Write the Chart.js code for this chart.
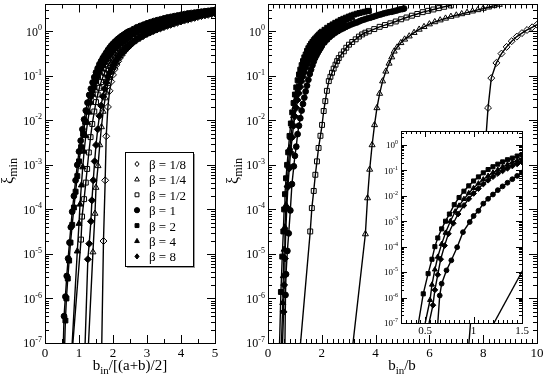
<!DOCTYPE html>
<html>
<head>
<meta charset="utf-8">
<script src="https://cdn.jsdelivr.net/npm/chart.js@4/dist/chart.umd.min.js"></script>
<style>
  body { margin: 0; background: #fff; }
  canvas { position: absolute; left: 0; top: 0; }
</style>
</head>
<body>
<canvas id="leftChart" width="543" height="377"></canvas>
<canvas id="rightChart" width="543" height="377"></canvas>
<canvas id="insetChart" width="543" height="377"></canvas>
<script>
// legend labels, one per beta, in the order used by every series list below
var betaLabels = ["β = 1/8", "β = 1/4", "β = 1/2", "β = 1", "β = 2", "β = 4", "β = 8"];

// tick labels
var yTickExps = [0, -1, -2, -3, -4, -5, -6, -7];
var leftXTicks = [0, 1, 2, 3, 4, 5];
var rightXTicks = [0, 2, 4, 6, 8, 10];
var insetXTicks = [0.5, 1, 1.5];

// ---- left panel: xi_min vs b_in/[(a+b)/2], points [x, y] ----
var leftB8th = [[1.72,1.95e-5],[1.77,4.5e-4],[1.8,4.4e-3],[1.85,0.02],[1.9,0.046],[1.95,0.074],[2.0,0.105],[2.05,0.141],[2.1,0.176],[2.15,0.211],[2.2,0.251],[2.25,0.288],[2.3,0.331],[2.35,0.367],[2.4,0.407],[2.45,0.442],[2.5,0.479],[2.6,0.562],[2.7,0.638],[2.8,0.716],[2.9,0.794],[3.0,0.871],[3.1,0.944],[3.2,1.02],[3.3,1.1],[3.4,1.17],[3.5,1.24],[3.6,1.32],[3.7,1.4],[3.8,1.48],[3.9,1.57],[4.0,1.66],[4.1,1.74],[4.2,1.82],[4.3,1.91],[4.4,2.0],[4.5,2.09],[4.6,2.19],[4.7,2.26],[4.8,2.34],[4.9,2.43],[5.0,2.51]];
var leftB4th = [[1.41,1.1e-5],[1.47,8.1e-5],[1.5,3.1e-4],[1.56,9.5e-4],[1.61,2.8e-3],[1.66,7.1e-3],[1.71,0.0158],[1.77,0.0316],[1.8,0.0427],[1.85,0.0661],[1.9,0.0912],[1.95,0.12],[2.0,0.151],[2.05,0.182],[2.1,0.214],[2.15,0.251],[2.2,0.282],[2.25,0.316],[2.3,0.351],[2.35,0.389],[2.4,0.427],[2.45,0.462],[2.5,0.501],[2.6,0.575],[2.7,0.653],[2.8,0.724],[2.9,0.804],[3.0,0.871],[3.1,0.944],[3.2,1.02],[3.3,1.1],[3.4,1.17],[3.5,1.26],[3.6,1.35],[3.7,1.43],[3.8,1.51],[3.9,1.6],[4.0,1.7],[4.1,1.78],[4.2,1.86],[4.3,1.95],[4.4,2.04],[4.5,2.14],[4.6,2.24],[4.7,2.32],[4.8,2.4],[4.9,2.48],[5.0,2.57]];
var leftB2nd = [[1.06,2.1e-5],[1.09,6.9e-5],[1.15,1.7e-4],[1.2,4e-4],[1.24,8.1e-4],[1.29,1.9e-3],[1.34,4.2e-3],[1.39,8.3e-3],[1.45,0.0158],[1.5,0.0257],[1.55,0.038],[1.6,0.0537],[1.65,0.0724],[1.7,0.0933],[1.75,0.116],[1.8,0.141],[1.85,0.168],[1.9,0.195],[1.95,0.224],[2.0,0.257],[2.05,0.288],[2.1,0.324],[2.15,0.355],[2.2,0.389],[2.25,0.422],[2.3,0.457],[2.35,0.49],[2.4,0.525],[2.45,0.562],[2.5,0.596],[2.6,0.676],[2.7,0.759],[2.8,0.832],[2.9,0.912],[3.0,0.989],[3.1,1.07],[3.2,1.15],[3.3,1.23],[3.4,1.3],[3.5,1.38],[3.6,1.46],[3.7,1.55],[3.8,1.62],[3.9,1.7],[4.0,1.78],[4.1,1.86],[4.2,1.95],[4.3,2.04],[4.4,2.14],[4.5,2.24],[4.6,2.32],[4.7,2.4],[4.8,2.51],[4.9,2.6],[5.0,2.69]];
var leftB1 = [[0.56,4e-7],[0.6,1.1e-6],[0.64,3.2e-6],[0.68,7.9e-6],[0.72,1.8e-5],[0.76,4e-5],[0.8,8.9e-5],[0.85,2e-4],[0.9,4.5e-4],[0.95,1e-3],[1.0,2e-3],[1.05,3.5e-3],[1.1,6.3e-3],[1.15,0.0105],[1.2,0.0166],[1.25,0.025],[1.3,0.0372],[1.35,0.0513],[1.4,0.0708],[1.45,0.0933],[1.5,0.12],[1.55,0.148],[1.6,0.182],[1.65,0.214],[1.7,0.251],[1.75,0.288],[1.8,0.331],[1.85,0.38],[1.9,0.427],[1.95,0.479],[2.0,0.525],[2.05,0.575],[2.1,0.624],[2.15,0.676],[2.2,0.724],[2.25,0.776],[2.3,0.822],[2.35,0.871],[2.4,0.933],[2.45,0.977],[2.5,1.02],[2.6,1.12],[2.7,1.23],[2.8,1.32],[2.9,1.41],[3.0,1.51],[3.1,1.6],[3.2,1.7],[3.3,1.78],[3.4,1.86],[3.5,1.95],[3.6,2.04],[3.7,2.11],[3.8,2.19],[3.9,2.26],[4.0,2.34],[4.1,2.43],[4.2,2.51],[4.3,2.57],[4.4,2.63],[4.5,2.69],[4.6,2.75],[4.7,2.82],[4.8,2.88],[4.9,2.95],[5.0,3.02]];
var leftB2 = [[0.6,3.2e-7],[0.63,1e-6],[0.67,2.8e-6],[0.71,7.1e-6],[0.75,1.8e-5],[0.8,4.5e-5],[0.85,1.1e-4],[0.9,2.5e-4],[0.95,5.6e-4],[1.0,1.2e-3],[1.06,2.5e-3],[1.12,5e-3],[1.18,9.3e-3],[1.24,0.0158],[1.3,0.0251],[1.35,0.0347],[1.4,0.0479],[1.45,0.0631],[1.5,0.0813],[1.55,0.1],[1.6,0.126],[1.65,0.148],[1.7,0.174],[1.75,0.204],[1.8,0.234],[1.85,0.269],[1.9,0.302],[1.95,0.339],[2.0,0.38],[2.05,0.417],[2.1,0.457],[2.15,0.501],[2.2,0.543],[2.25,0.589],[2.3,0.631],[2.35,0.676],[2.4,0.716],[2.45,0.767],[2.5,0.813],[2.6,0.902],[2.7,1.0],[2.8,1.1],[2.9,1.19],[3.0,1.27],[3.1,1.35],[3.2,1.43],[3.3,1.51],[3.4,1.6],[3.5,1.7],[3.6,1.78],[3.7,1.86],[3.8,1.95],[3.9,2.04],[4.0,2.11],[4.1,2.19],[4.2,2.26],[4.3,2.34],[4.4,2.43],[4.5,2.51],[4.6,2.6],[4.7,2.69],[4.8,2.75],[4.9,2.85],[5.0,2.95]];
var leftB4 = [[0.95,1.15e-5],[1.0,4.8e-5],[1.03,1.3e-4],[1.07,3.5e-4],[1.11,8.9e-4],[1.15,2e-3],[1.2,4.5e-3],[1.25,8.9e-3],[1.3,0.0151],[1.35,0.0251],[1.4,0.038],[1.45,0.0537],[1.5,0.0741],[1.55,0.0977],[1.6,0.123],[1.65,0.148],[1.7,0.176],[1.75,0.204],[1.8,0.234],[1.85,0.269],[1.9,0.302],[1.95,0.335],[2.0,0.372],[2.05,0.407],[2.1,0.442],[2.15,0.479],[2.2,0.513],[2.25,0.55],[2.3,0.582],[2.35,0.617],[2.4,0.661],[2.45,0.7],[2.5,0.733],[2.6,0.813],[2.7,0.891],[2.8,0.966],[2.9,1.04],[3.0,1.12],[3.1,1.19],[3.2,1.26],[3.3,1.33],[3.4,1.41],[3.5,1.5],[3.6,1.58],[3.7,1.66],[3.8,1.74],[3.9,1.82],[4.0,1.91],[4.1,2.0],[4.2,2.09],[4.3,2.16],[4.4,2.24],[4.5,2.34],[4.6,2.45],[4.7,2.54],[4.8,2.63],[4.9,2.72],[5.0,2.82]];
var leftB8 = [[1.26,7.6e-6],[1.3,1.7e-5],[1.35,5.4e-5],[1.38,1.6e-4],[1.42,4.5e-4],[1.46,1.2e-3],[1.5,2.8e-3],[1.55,6.3e-3],[1.6,0.0126],[1.65,0.0214],[1.7,0.0347],[1.75,0.0513],[1.8,0.0708],[1.85,0.0955],[1.9,0.117],[1.95,0.145],[2.0,0.174],[2.05,0.204],[2.1,0.229],[2.15,0.263],[2.2,0.295],[2.25,0.327],[2.3,0.359],[2.35,0.398],[2.4,0.432],[2.45,0.468],[2.5,0.501],[2.6,0.575],[2.7,0.661],[2.8,0.733],[2.9,0.813],[3.0,0.891],[3.1,0.966],[3.2,1.05],[3.3,1.12],[3.4,1.2],[3.5,1.29],[3.6,1.38],[3.7,1.46],[3.8,1.55],[3.9,1.64],[4.0,1.74],[4.1,1.82],[4.2,1.91],[4.3,2.0],[4.4,2.09],[4.5,2.19],[4.6,2.29],[4.7,2.37],[4.8,2.45],[4.9,2.54],[5.0,2.63]];
// where each fitted line leaves the bottom of the left panel (y = 1e-7)
var leftLineStart = [1.67, 1.28, 0.82, 0.54, 0.58, 0.8, 1.18];

// ---- right panel (and inset): xi_min vs b_in/b ----
var rightB8th = [[7.6,1e-6],[7.75,1e-5],[7.88,1e-4],[8.0,7.9e-4],[8.1,4e-3],[8.18,0.019],[8.3,0.089],[8.49,0.195],[8.68,0.316],[8.87,0.447],[9.06,0.6],[9.25,0.76],[9.44,0.91],[9.63,1.07],[9.82,1.23],[10.0,1.41]];
var rightB4th = [[3.62,2.8e-5],[3.7,1.8e-4],[3.78,7.9e-4],[3.87,2.8e-3],[3.96,7.9e-3],[4.05,0.019],[4.15,0.04],[4.26,0.076],[4.38,0.126],[4.5,0.19],[4.6,0.263],[4.69,0.355],[4.8,0.437],[4.94,0.55],[5.08,0.66],[5.25,0.776],[5.43,0.93],[5.62,1.1],[5.8,1.26],[6.0,1.45],[6.2,1.62],[6.4,1.78],[6.6,1.95],[6.8,2.14],[7.0,2.29],[7.2,2.45],[7.4,2.63],[7.6,2.82],[7.8,3.02],[8.0,3.24],[8.2,3.47],[8.4,3.72],[8.6,3.98]];
var rightB2nd = [[1.57,3.2e-5],[1.63,1.07e-4],[1.7,2.6e-4],[1.76,6e-4],[1.82,1.2e-3],[1.88,2.4e-3],[1.95,4.5e-3],[2.01,7.9e-3],[2.07,0.0162],[2.13,0.027],[2.19,0.046],[2.26,0.076],[2.32,0.095],[2.38,0.117],[2.44,0.145],[2.51,0.178],[2.57,0.214],[2.63,0.25],[2.72,0.3],[2.82,0.355],[2.91,0.427],[3.01,0.5],[3.13,0.575],[3.26,0.66],[3.38,0.76],[3.5,0.85],[3.62,0.93],[3.75,1.0],[3.95,1.12],[4.15,1.26],[4.35,1.38],[4.55,1.51],[4.75,1.66],[4.95,1.86],[5.15,2.04],[5.35,2.24],[5.55,2.45],[5.75,2.69],[5.95,2.88],[6.15,3.09],[6.35,3.31],[6.55,3.55],[6.8,3.8]];
var rightB1 = [[0.65,1.2e-6],[0.67,3.5e-6],[0.72,1.17e-5],[0.77,2.9e-5],[0.83,9.5e-5],[0.89,3.7e-4],[0.96,9.3e-4],[1.0,1.6e-3],[1.05,2.57e-3],[1.1,4.9e-3],[1.15,7.59e-3],[1.2,0.0112],[1.25,0.0166],[1.3,0.0234],[1.35,0.0324],[1.4,0.0447],[1.45,0.0603],[1.5,0.0813],[1.55,0.11],[1.6,0.138],[1.65,0.172],[1.7,0.209],[1.75,0.251],[1.8,0.288],[1.85,0.331],[1.9,0.372],[1.95,0.417],[2.0,0.468],[2.1,0.562],[2.2,0.653],[2.3,0.75],[2.4,0.841],[2.5,0.933],[2.6,1.01],[2.7,1.1],[2.8,1.17],[2.9,1.26],[3.0,1.35],[3.1,1.43],[3.2,1.51],[3.3,1.58],[3.4,1.68],[3.5,1.78],[3.6,1.86],[3.7,1.95],[3.8,2.02],[3.9,2.11],[4.0,2.21],[4.1,2.32],[4.2,2.4],[4.3,2.51],[4.4,2.6],[4.5,2.69],[4.6,2.75],[4.7,2.85],[4.8,2.95],[4.9,3.09],[5.0,3.16],[5.06,3.24]];
var rightB2 = [[0.48,1.4e-6],[0.53,8.7e-6],[0.57,3.2e-5],[0.6,1e-4],[0.63,2.2e-4],[0.67,5e-4],[0.71,1e-3],[0.75,1.91e-3],[0.8,4.47e-3],[0.85,8.51e-3],[0.9,0.0151],[0.95,0.0245],[1.0,0.038],[1.05,0.055],[1.1,0.0794],[1.15,0.107],[1.2,0.138],[1.25,0.174],[1.3,0.214],[1.35,0.26],[1.4,0.302],[1.45,0.363],[1.5,0.417],[1.55,0.468],[1.6,0.525],[1.65,0.575],[1.7,0.631],[1.75,0.684],[1.8,0.733],[1.85,0.794],[1.9,0.851],[1.95,0.912],[2.0,0.977],[2.1,1.08],[2.2,1.2],[2.3,1.32],[2.4,1.43],[2.5,1.55],[2.6,1.66],[2.7,1.8],[2.8,1.91],[2.9,2.02],[3.0,2.14],[3.1,2.26],[3.2,2.37],[3.3,2.48],[3.4,2.57],[3.5,2.66],[3.6,2.75],[3.7,2.85],[3.75,2.88]];
var rightB4 = [[0.55,8e-7],[0.57,3.2e-6],[0.6,1.26e-5],[0.63,4e-5],[0.67,1.26e-4],[0.71,3.5e-4],[0.76,1e-3],[0.81,2.4e-3],[0.85,4.07e-3],[0.9,7.41e-3],[0.95,0.0126],[1.0,0.02],[1.05,0.0302],[1.1,0.0437],[1.15,0.0603],[1.2,0.0813],[1.25,0.105],[1.3,0.135],[1.35,0.166],[1.4,0.204],[1.45,0.24],[1.5,0.282],[1.55,0.324],[1.6,0.372],[1.65,0.417],[1.7,0.457],[1.75,0.507],[1.8,0.562],[1.85,0.61],[1.9,0.661],[1.95,0.708],[2.0,0.767],[2.1,0.881],[2.2,0.977],[2.3,1.08],[2.4,1.19],[2.5,1.3],[2.6,1.41],[2.7,1.55],[2.8,1.66],[2.9,1.76],[3.0,1.86],[3.125,2.0]];
var rightB8 = [[0.58,5e-7],[0.6,2e-6],[0.63,7.9e-6],[0.66,3.2e-5],[0.7,1.1e-4],[0.74,3.2e-4],[0.79,8.3e-4],[0.84,1.91e-3],[0.9,4.17e-3],[0.95,7.59e-3],[1.0,0.0123],[1.05,0.0191],[1.1,0.0288],[1.15,0.0407],[1.2,0.0562],[1.25,0.075],[1.3,0.0955],[1.35,0.12],[1.4,0.148],[1.45,0.178],[1.5,0.211],[1.55,0.245],[1.6,0.282],[1.65,0.32],[1.7,0.363],[1.75,0.407],[1.8,0.447],[1.85,0.495],[1.9,0.543],[1.95,0.589],[2.0,0.646],[2.1,0.741],[2.2,0.851],[2.3,0.955],[2.4,1.05],[2.5,1.15],[2.6,1.26],[2.7,1.38],[2.81,1.51]];
var rightLineStart = [7.47, 3.16, 1.21, 0.63, 0.43, 0.5, 0.54];

var FONT = '"Liberation Serif", "Times New Roman", serif';

// marker look for each beta
var markerStyles = [
  { shape: 'rectRot', filled: false },
  { shape: 'triangle', filled: false },
  { shape: 'rect', filled: false },
  { shape: 'circle', filled: true },
  { shape: 'rect', filled: true },
  { shape: 'triangle', filled: true },
  { shape: 'rectRot', filled: true }
];

function buildSets(series, starts, size) {
  var sets = [];
  series.forEach(function (pts, i) {
    var st = markerStyles[i];
    var xy = pts.map(function (p) { return { x: p[0], y: p[1] }; });
    sets.push({
      data: [{ x: starts[i], y: 1e-7 }].concat(xy),
      showLine: true, borderColor: '#000', borderWidth: 1.4, tension: 0,
      pointRadius: 0, order: 2
    });
    var r = st.shape === 'circle' ? size : size * 1.2;
    sets.push({
      data: xy, showLine: false, order: 1,
      pointStyle: st.shape, pointRadius: r, pointHoverRadius: r,
      pointBackgroundColor: st.filled ? '#000' : 'rgba(0,0,0,0)',
      pointBorderColor: '#000', pointBorderWidth: 1
    });
  });
  return sets;
}

function drawMarker(c, shape, filled, x, y, r) {
  c.beginPath();
  if (shape === 'circle') c.arc(x, y, r, 0, 2 * Math.PI);
  else if (shape === 'rect') c.rect(x - r * 0.75, y - r * 0.75, r * 1.5, r * 1.5);
  else if (shape === 'triangle') { c.moveTo(x, y - r); c.lineTo(x + r * 0.9, y + r * 0.6); c.lineTo(x - r * 0.9, y + r * 0.6); c.closePath(); }
  else { c.moveTo(x, y - r); c.lineTo(x + r * 0.8, y); c.lineTo(x, y + r); c.lineTo(x - r * 0.8, y); c.closePath(); }
  if (filled) c.fill();
  c.stroke();
}

// text made of [string, isSubscript] pieces
function pieceWidth(c, parts, size) {
  var w = 0;
  parts.forEach(function (p) {
    c.font = (p[1] ? Math.round(size * 0.72) : size) + 'px ' + FONT;
    w += c.measureText(p[0]).width;
  });
  return w;
}
function drawPieces(c, parts, size, x, y) {
  parts.forEach(function (p) {
    c.font = (p[1] ? Math.round(size * 0.72) : size) + 'px ' + FONT;
    c.fillText(p[0], x, p[1] ? y + size * 0.28 : y);
    x += c.measureText(p[0]).width;
  });
}

function axisFrame(o) {
  return {
    id: 'axisFrame',
    beforeDatasetsDraw: function (chart) {
      if (!o.white) return;
      var a = chart.chartArea, c = chart.ctx;
      c.save();
      c.fillStyle = '#fff';
      c.fillRect(a.left, a.top, a.right - a.left, a.bottom - a.top);
      c.restore();
    },
    afterDraw: function (chart) {
      var c = chart.ctx, a = chart.chartArea, xs = chart.scales.x, ys = chart.scales.y;
      c.save();
      c.strokeStyle = '#000';
      c.fillStyle = '#000';
      c.lineWidth = 1;
      c.beginPath();
      var n = Math.round((xs.max - xs.min) / o.xMinor);
      for (var i = 0; i <= n; i++) {
        var v = xs.min + i * o.xMinor;
        var q = v / o.xMajor;
        var len = Math.abs(q - Math.round(q)) < 1e-6 ? o.majorLen : o.minorLen;
        var px = Math.round(xs.getPixelForValue(v)) + 0.5;
        c.moveTo(px, a.bottom); c.lineTo(px, a.bottom - len);
        c.moveTo(px, a.top); c.lineTo(px, a.top + len);
      }
      for (var k = -7; k <= 0; k++) {
        for (var m = 1; m <= 9; m++) {
          var val = m * Math.pow(10, k);
          if (val > ys.max) break;
          var py = Math.round(ys.getPixelForValue(val)) + 0.5;
          var l2 = m === 1 ? o.majorLen : o.minorLen;
          c.moveTo(a.left, py); c.lineTo(a.left + l2, py);
          c.moveTo(a.right, py); c.lineTo(a.right - l2, py);
        }
      }
      c.stroke();
      c.strokeRect(Math.round(a.left) + 0.5, Math.round(a.top) + 0.5, Math.round(a.right - a.left), Math.round(a.bottom - a.top));

      // x tick labels
      c.textAlign = 'left';
      c.textBaseline = 'alphabetic';
      c.font = o.xFont + 'px ' + FONT;
      o.xTicks.forEach(function (t) {
        var s = String(t);
        var w = c.measureText(s).width;
        c.fillText(s, xs.getPixelForValue(t) - w / 2, a.bottom + o.xLabelDy);
      });
      // y tick labels 10^k
      yTickExps.forEach(function (e) {
        var py = ys.getPixelForValue(Math.pow(10, e));
        c.font = Math.round(o.yFont * 0.7) + 'px ' + FONT;
        var es = e < 0 ? '-' + (-e) : String(e);
        var ew = c.measureText(es).width;
        var xr = a.left - 3;
        c.fillText(es, xr - ew, py - o.yFont * 0.08);
        c.font = o.yFont + 'px ' + FONT;
        var bw = c.measureText('10').width;
        c.fillText('10', xr - ew - bw, py + o.yFont * 0.37);
      });
      // axis titles
      if (o.xTitle) {
        var tw = pieceWidth(c, o.xTitle, 15);
        drawPieces(c, o.xTitle, 15, o.xTitleX - tw / 2, 370);
      }
      if (o.yTitle) {
        c.save();
        c.translate(o.yTitleX, 171);
        c.rotate(-Math.PI / 2);
        var yw = pieceWidth(c, o.yTitle, 16);
        drawPieces(c, o.yTitle, 16, -yw / 2, 4);
        c.restore();
      }
      // legend box
      if (o.legend) {
        var L = o.legend;
        c.fillStyle = '#9a9a9a';
        c.fillRect(L.x + 2, L.y + 2, L.w, L.h);
        c.fillStyle = '#fff';
        c.fillRect(L.x, L.y, L.w, L.h);
        c.strokeRect(L.x + 0.5, L.y + 0.5, L.w, L.h);
        c.fillStyle = '#000';
        c.font = '13px ' + FONT;
        betaLabels.forEach(function (lab, i) {
          var ry = L.y + 13 + i * 15.4;
          var st = markerStyles[i];
          drawMarker(c, st.shape, st.filled, L.x + 12, ry - 1, 2.6);
          c.fillText(lab, L.x + 24, ry + 4);
        });
      }
      c.restore();
    }
  };
}

function makeChart(id, sets, xMin, xMax, yMax, pad, frame) {
  return new Chart(document.getElementById(id), {
    type: 'scatter',
    data: { datasets: sets },
    options: {
      responsive: false,
      animation: false,
      events: [],
      layout: { padding: pad },
      plugins: { legend: { display: false }, tooltip: { enabled: false } },
      scales: {
        x: { type: 'linear', min: xMin, max: xMax, display: false },
        y: { type: 'logarithmic', min: 1e-7, max: yMax, display: false }
      }
    },
    plugins: [axisFrame(frame)]
  });
}

var leftSeries = [leftB8th, leftB4th, leftB2nd, leftB1, leftB2, leftB4, leftB8];
var rightSeries = [rightB8th, rightB4th, rightB2nd, rightB1, rightB2, rightB4, rightB8];

makeChart('leftChart', buildSets(leftSeries, leftLineStart, 2.9), 0, 5, 4,
  { left: 45, top: 4, right: 328, bottom: 34 },
  { xMinor: 0.5, xMajor: 1, majorLen: 8, minorLen: 4, xTicks: leftXTicks, xFont: 13, xLabelDy: 14, yFont: 12,
    xTitle: [['b', 0], ['in', 1], ['/[(a+b)/2]', 0]], xTitleX: 130,
    yTitle: [['ξ', 0], ['min', 1]], yTitleX: 9,
    legend: { x: 125, y: 152, w: 68, h: 114 } });

makeChart('rightChart', buildSets(rightSeries, rightLineStart, 2.9), 0, 10, 4,
  { left: 268, top: 4, right: 6, bottom: 34 },
  { xMinor: 0.2, xMajor: 2, majorLen: 8, minorLen: 4, xTicks: rightXTicks, xFont: 13, xLabelDy: 14, yFont: 12,
    xTitle: [['b', 0], ['in', 1], ['/b', 0]], xTitleX: 402,
    yTitle: [['ξ', 0], ['min', 1]], yTitleX: 234 });

makeChart('insetChart', buildSets(rightSeries, rightLineStart, 2.4), 0.25, 1.5, 3.5,
  { left: 401, top: 131, right: 21, bottom: 54 },
  { white: true, xMinor: 0.05, xMajor: 0.5, majorLen: 6, minorLen: 3, xTicks: insetXTicks, xFont: 11, xLabelDy: 11, yFont: 9 });
</script>
</body>
</html>
